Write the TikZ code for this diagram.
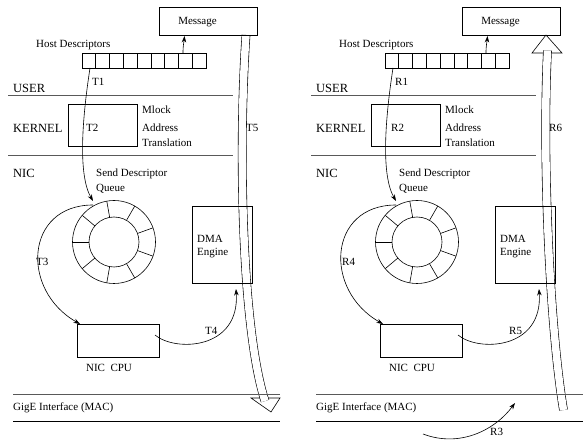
\documentclass[tikz,border=0pt]{standalone}
\usepackage{fontspec}
\setmainfont{Liberation Serif}
\usetikzlibrary{arrows.meta,calc}
\newcommand\drawpanel[1]{%
  % message box and descriptors
  \node[box, minimum width=98pt, minimum height=28pt] (#1msg) at (208,21) {};
  \node[lbl, anchor=center] (#1msgt) at (197.5,22) {Message};
  \node[lbl] (#1hd) at (36,45) {Host Descriptors};
  \foreach \i in {1,...,9} {\node[cell] (#1c\i) at ({82+(\i-0.5)*13.78},60.5) {};}
  % layers
  \node[big] (#1user) at (13,88) {USER};
  \coordinate (#1ua) at (8,95); \coordinate (#1ub) at (233,95);
  \draw[sep] (#1ua) -- (#1ub);
  \node[big] (#1kern) at (13,128) {KERNEL};
  \node[box, minimum width=69pt, minimum height=42pt] (#1kbox) at (102.5,125) {};
  \node[lbl] (#1ml) at (142,110) {Mlock};
  \node[lbl] (#1ad) at (142,128) {Address};
  \node[lbl] (#1tr) at (142,143) {Translation};
  \coordinate (#1ka) at (8,155); \coordinate (#1kb) at (233,155);
  \draw[sep] (#1ka) -- (#1kb);
  \node[big] (#1nic) at (13,173) {NIC};
  \node[lbl] (#1sdq) at (96,174) {Send Descriptor};
  \node[lbl] (#1q) at (96,189) {Queue};
  % ring
  \coordinate (#1ring) at (114,242);
  \draw[line width=0.6pt] (#1ring) circle[radius=41.5pt];
  \draw[line width=0.6pt] (#1ring) circle[radius=25pt];
  \foreach \a in {20,60,...,340} {\draw[line width=0.6pt] ([shift={(\a:25pt)}]#1ring) -- ([shift={(\a:41.5pt)}]#1ring);}
  % DMA and CPU
  \node[box, minimum width=60pt, minimum height=77pt] (#1dma) at (222,244.5) {};
  \node[lbl] (#1dmat) at (197,239) {DMA};
  \node[lbl] (#1eng) at (197,253) {Engine};
  \node[box, minimum width=82pt, minimum height=33pt] (#1cpu) at (118,340.5) {};
  \node[lbl, anchor=center] (#1cput) at (109,368) {NIC\ \ CPU};
  % GigE
  \coordinate (#1ga) at (13,394); \coordinate (#1gb) at (280,394);
  \coordinate (#1gc) at (13,421); \coordinate (#1gd) at (280,421);
  \draw[sep] (#1ga) -- (#1gb);
  \draw[line width=0.7pt] (#1gc) -- (#1gd);
  \node[lbl] (#1gige) at (13,408) {GigE Interface (MAC)};
  % arrows
  \coordinate (#1ma) at (183,53); \coordinate (#1mb) at (184.5,36);
  \draw[arr] (#1ma) .. controls (183,45) and (184,42) .. (#1mb);
  \coordinate (#1a1) at (90,68); \coordinate (#1a2) at (93,201);
  \draw[arr] (#1a1) .. controls (82,120) and (78,175) .. (#1a2);
  \coordinate (#1b1) at (93,205); \coordinate (#1b2) at (80,324);
  \draw[arr] (#1b1) .. controls (25,205) and (20,290) .. (#1b2);
  \coordinate (#1d1) at (155,335); \coordinate (#1d2) at (236,289);
  \draw[arr] (#1d1) .. controls (175,352) and (240,350) .. (#1d2);
}
\begin{document}
\begin{tikzpicture}[x=1pt,y=-1pt,
  box/.style={draw, line width=0.6pt, inner sep=0pt},
  lbl/.style={inner sep=0pt, anchor=west, font=\fontsize{11}{13}\selectfont},
  big/.style={inner sep=0pt, anchor=west, font=\fontsize{12.5}{14}\selectfont},
  sep/.style={draw=black!65, line width=0.9pt},
  arr/.style={line width=0.6pt, -{Stealth[length=6.5pt,width=4.5pt]}},
  cell/.style={draw, line width=0.6pt, minimum width=13.78pt, minimum height=15pt, inner sep=0pt},
  shaft/.style={double distance=7.5pt, line width=0.6pt},
  head/.style={draw, fill=white, line width=0.6pt, line join=miter}
]
\useasboundingbox (0,0) rectangle (586,443);
% big arrows (drawn first)
\coordinate (Lhl) at (251,398); \coordinate (Lht) at (271,412); \coordinate (Lhr) at (280,398);
\draw[head] (Lhl) -- (Lht) -- (Lhr) -- cycle;
\coordinate (Ls0) at (246,35); \coordinate (Ls1) at (265,401);
\draw[shaft] (Ls0) .. controls (238,150) and (242,330) .. (Ls1);
\coordinate (Rhl) at (532,53); \coordinate (Rht) at (546,35); \coordinate (Rhr) at (562,53);
\draw[head] (Rhl) -- (Rht) -- (Rhr) -- cycle;
\coordinate (Rs0) at (563.5,410); \coordinate (Rs1) at (547.5,50.5);
\draw[shaft] (Rs0) .. controls (550,330) and (542,160) .. (Rs1);
% panels
\drawpanel{L}
\begin{scope}[xshift=303pt]
\drawpanel{R}
\end{scope}
% left labels
\node[lbl] (T1) at (92,82) {T1};
\node[lbl] (T2) at (86,128) {T2};
\node[lbl] (T5) at (246,128) {T5};
\node[lbl] (T3) at (36,262) {T3};
\node[lbl] (T4) at (205,331) {T4};
% right labels
\node[lbl] (R1) at (395,82) {R1};
\node[lbl] (R2) at (391,128) {R2};
\node[lbl] (R6) at (549,128) {R6};
\node[lbl] (R4) at (342,262) {R4};
\node[lbl] (R5) at (509,331) {R5};
\node[lbl] (R3) at (490,432) {R3};
\coordinate (r3a) at (423,434); \coordinate (r3b) at (515,403);
\draw[arr] (r3a) .. controls (460,448) and (495,430) .. (r3b);
\end{tikzpicture}
\end{document}
